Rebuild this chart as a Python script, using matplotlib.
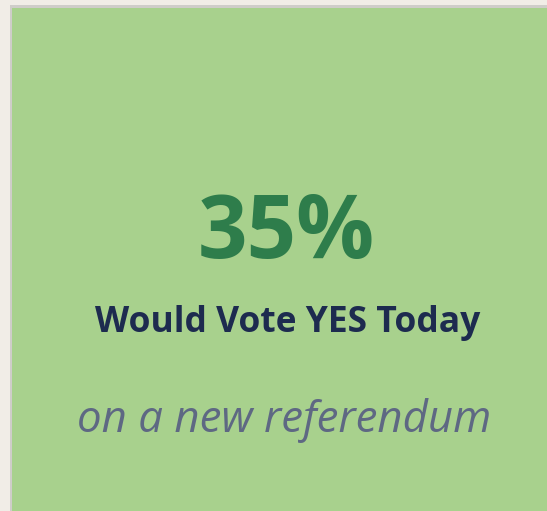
import matplotlib
matplotlib.use("Agg")
import matplotlib.pyplot as plt
from matplotlib.patches import Rectangle

# Headline figure and its captions
share_yes = 35
headline = f"{share_yes}%"
caption = "Would Vote YES Today"
subcaption = "on a new referendum"

W, H = 547, 511
fig = plt.figure(figsize=(W / 100, H / 100), dpi=100)
fig.patch.set_facecolor("#f1ede7")
ax = fig.add_axes([0, 0, 1, 1])
ax.set_xlim(0, W)
ax.set_ylim(H, 0)
ax.axis("off")

# Card with a soft grey edge along top and left
ax.add_patch(Rectangle((10, 5), W - 10, H - 5, facecolor="#cfcdc9", edgecolor="none"))
ax.add_patch(Rectangle((12, 8), W - 12, H - 8, facecolor="#a8d18d", edgecolor="none"))

ax.text(286, 258, headline, ha="center", va="baseline", fontsize=62.5,
        fontweight="bold", color="#2e7d4b", family="Open Sans")
ax.text(288, 332, caption, ha="center", va="baseline", fontsize=25.5,
        fontweight="bold", color="#1d2b4f", family="Open Sans")
ax.text(284, 432, subcaption, ha="center", va="baseline", fontsize=31.5,
        style="italic", color="#5e6883", family="Open Sans")

fig.savefig("out.png", dpi=100, facecolor=fig.get_facecolor())
